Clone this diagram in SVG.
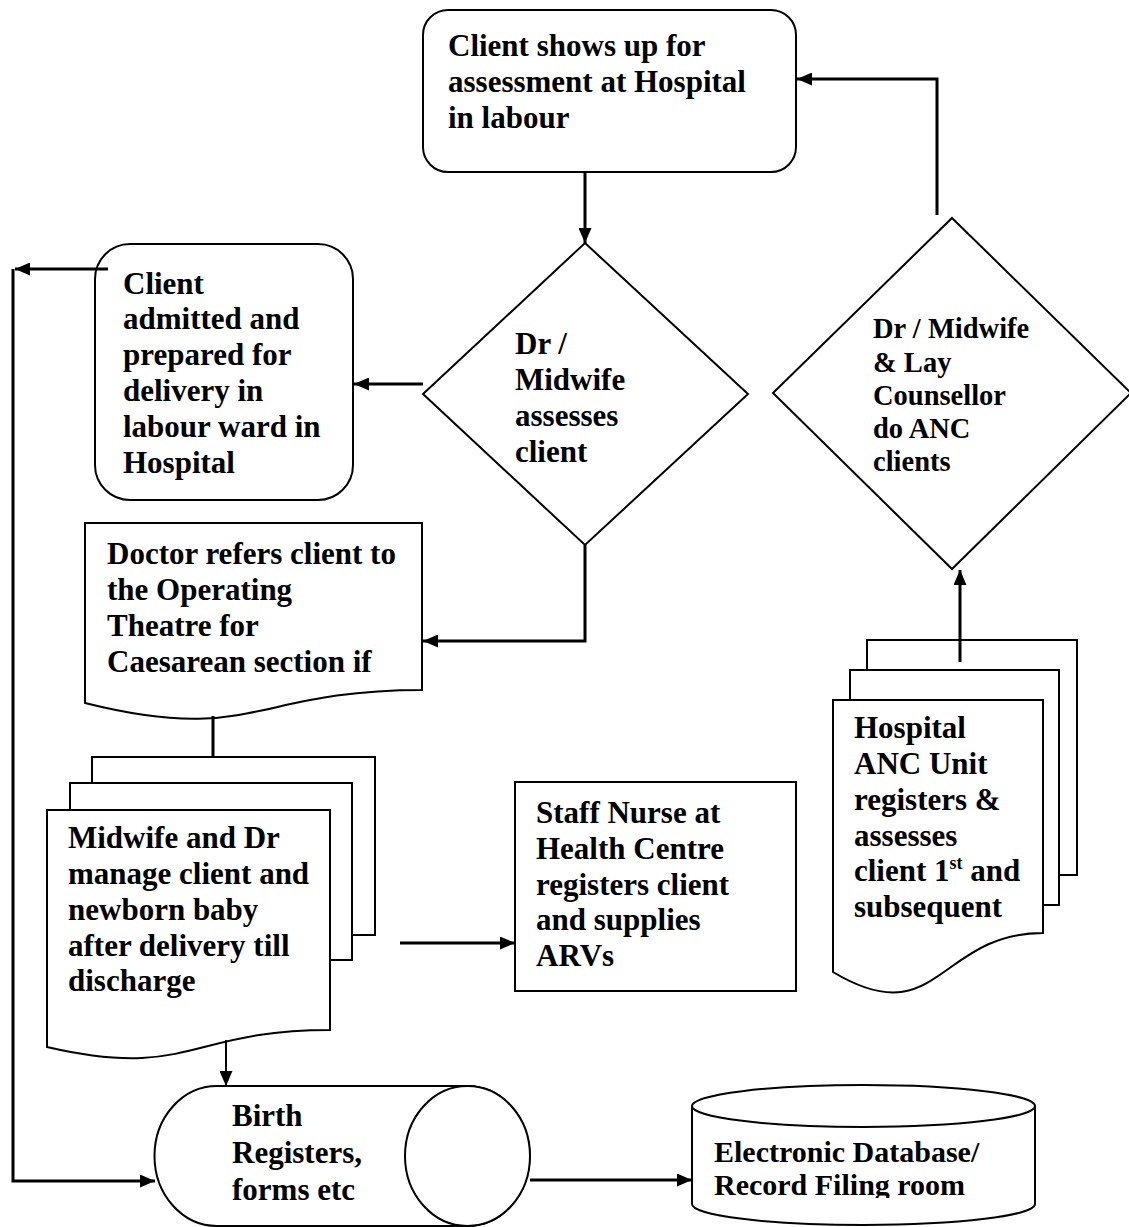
<svg xmlns="http://www.w3.org/2000/svg" width="1129" height="1227" viewBox="0 0 1129 1227">
<defs>
<style>
.n{fill:#fff;stroke:#000;stroke-width:2}
.t{font-family:"Liberation Serif","Times New Roman",serif;font-weight:bold;font-size:31px;fill:#000}
.t2{font-family:"Liberation Serif","Times New Roman",serif;font-weight:bold;font-size:28.5px;fill:#000}
.t3{font-family:"Liberation Serif","Times New Roman",serif;font-weight:bold;font-size:30px;fill:#000}
.c{fill:none;stroke:#000;stroke-width:3}
.c2{fill:none;stroke:#000;stroke-width:2}
</style>
<marker id="ah" viewBox="0 0 15 13" refX="15" refY="6.5" markerWidth="15" markerHeight="13" markerUnits="userSpaceOnUse" orient="auto">
<path d="M0,0 L15,6.5 L0,13 Z" fill="#000"/>
</marker>
<clipPath id="dbclip"><rect x="690" y="1080" width="350" height="118"/></clipPath>
</defs>
<rect width="1129" height="1227" fill="#fff"/>

<g id="n-client-shows">
<rect class="n" x="423" y="10" width="373" height="162" rx="25"/>
<text class="t" x="448"><tspan x="448" y="56">Client shows up for</tspan><tspan x="448" y="92">assessment at Hospital</tspan><tspan x="448" y="128">in labour</tspan></text>
</g>

<g id="n-assess">
<path class="n" d="M585,243 L748,394 L585,545 L423,394 Z"/>
<text class="t"><tspan x="515" y="354">Dr /</tspan><tspan x="515" y="390">Midwife</tspan><tspan x="515" y="426">assesses</tspan><tspan x="515" y="462">client</tspan></text>
</g>

<g id="n-admitted">
<rect class="n" x="95" y="244" width="258" height="256" rx="35"/>
<text class="t"><tspan x="123" y="294">Client</tspan><tspan x="123" y="329">admitted and</tspan><tspan x="123" y="365">prepared for</tspan><tspan x="123" y="401">delivery in</tspan><tspan x="123" y="437">labour ward in</tspan><tspan x="123" y="473">Hospital</tspan></text>
</g>

<g id="n-anc-counsel">
<path class="n" d="M952,218 L1131,393 L952,569 L773,393 Z"/>
<text class="t2"><tspan x="873" y="338">Dr / Midwife</tspan><tspan x="873" y="372">&amp; Lay</tspan><tspan x="873" y="405">Counsellor</tspan><tspan x="873" y="438">do ANC</tspan><tspan x="873" y="471">clients</tspan></text>
</g>

<g id="n-doctor-refers">
<path class="n" d="M85,523 H422 V690 C253,690 253,745 85,703 Z"/>
<text class="t"><tspan x="107" y="564">Doctor refers client to</tspan><tspan x="107" y="600">the Operating</tspan><tspan x="107" y="636">Theatre for</tspan><tspan x="107" y="672">Caesarean section if</tspan></text>
</g>

<g id="n-midwife-manage">
<rect class="n" x="92" y="757" width="283" height="178"/>
<rect class="n" x="70" y="783" width="282" height="177"/>
<path class="n" d="M47,810 H330 V1030 C189,1030 189,1080 47,1047 Z"/>
<text class="t"><tspan x="68" y="848">Midwife and Dr</tspan><tspan x="68" y="884">manage client and</tspan><tspan x="68" y="920">newborn baby</tspan><tspan x="68" y="956">after delivery till</tspan><tspan x="68" y="991">discharge</tspan></text>
</g>

<g id="n-staff-nurse">
<rect class="n" x="515" y="782" width="281" height="209"/>
<text class="t"><tspan x="536" y="823">Staff Nurse at</tspan><tspan x="536" y="859">Health Centre</tspan><tspan x="536" y="895">registers client</tspan><tspan x="536" y="930">and supplies</tspan><tspan x="536" y="966">ARVs</tspan></text>
</g>

<g id="n-anc-unit">
<rect class="n" x="867" y="640" width="210" height="235"/>
<rect class="n" x="850" y="670" width="209" height="235"/>
<path class="n" d="M833,700 H1043 V933 C938,933 938,1035 833,972 Z"/>
<text class="t"><tspan x="854" y="738">Hospital</tspan><tspan x="854" y="774">ANC Unit</tspan><tspan x="854" y="810">registers &amp;</tspan><tspan x="854" y="846">assesses</tspan><tspan x="854" y="881">client 1<tspan font-size="18" dy="-12">st</tspan><tspan dy="12"> and</tspan></tspan><tspan x="854" y="917">subsequent</tspan></text>
</g>

<g id="n-birth-registers">
<path class="n" d="M217,1086 H467 A62.5,70 0 0 1 467,1226 H217 A62.5,70 0 0 1 217,1086 Z"/>
<ellipse class="n" cx="467.5" cy="1156" rx="62.5" ry="70"/>
<text class="t"><tspan x="232" y="1126">Birth</tspan><tspan x="232" y="1163">Registers,</tspan><tspan x="232" y="1200">forms etc</tspan></text>
</g>

<g id="n-database">
<path class="n" d="M692,1106 V1204 A171.5,21 0 0 0 1035,1204 V1106"/>
<ellipse class="n" cx="863.5" cy="1106" rx="171.5" ry="21"/>
<text class="t3" clip-path="url(#dbclip)"><tspan x="714" y="1162">Electronic Database/</tspan><tspan x="714" y="1195">Record Filing room</tspan></text>
</g>

<g id="connectors">
<path class="c" d="M585,173 V243" marker-end="url(#ah)"/>
<path class="c" d="M423,384 H354" marker-end="url(#ah)"/>
<path class="c" d="M108,269 H15" marker-end="url(#ah)"/>
<path class="c" d="M13,269 V1181 H155" marker-end="url(#ah)"/>
<path class="c" d="M585,545 V641 H423" marker-end="url(#ah)"/>
<path class="c" d="M213,716 V757"/>
<path class="c2" d="M226,1040 V1086" marker-end="url(#ah)"/>
<path class="c" d="M400,943 H515" marker-end="url(#ah)"/>
<path class="c" d="M530,1180 H692" marker-end="url(#ah)"/>
<path class="c" d="M960,662 V570" marker-end="url(#ah)"/>
<path class="c" d="M937,215 V79 H797" marker-end="url(#ah)"/>
</g>
</svg>
